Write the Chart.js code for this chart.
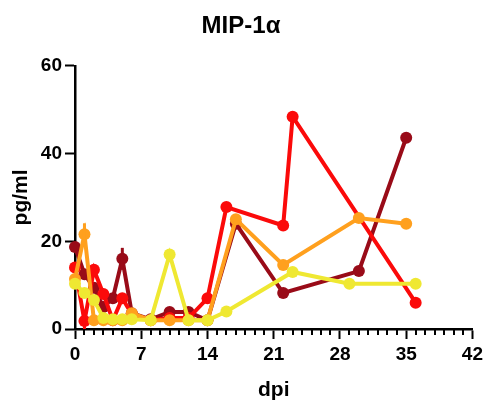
<!DOCTYPE html>
<html>
<head>
<meta charset="utf-8">
<script src="https://cdn.jsdelivr.net/npm/chart.js@4/dist/chart.umd.min.js"></script>
<style>
  body { margin: 0; background: #fff; }
  #wrap { width: 487px; height: 403px; }
</style>
</head>
<body>
<div id="wrap"><canvas id="c"></canvas></div>
<script>
const xTicks = [0, 7, 14, 21, 28, 35, 42]
const yTicks = [0, 20, 40, 60]

const darkRedDays = [0, 1, 2, 3, 4, 5, 6, 8, 10, 12, 14, 17, 22, 30, 35]
const darkRedVals = [18.7, 12.5, 9.4, 5, 7, 16, 3.6, 2.2, 3.9, 3.9, 2, 24, 8.2, 13.2, 43.6]
const darkRedErr  = [1, 0, 0, 0, 0, 2.5, 0, 0, 0, 0, 0, 0, 0, 0, 0]

const redDays = [0, 1, 2, 3, 4, 5, 6, 8, 10, 12, 14, 16, 22, 23, 36]
const redVals = [14, 1.8, 13.5, 8, 2, 7, 3.4, 2, 2.5, 2.5, 7, 27.8, 23.6, 48.4, 6]
const redErr  = [0, 2.5, 0, 0, 0, 0, 0, 0, 0, 0, 0, 0, 0, 0, 0]

const orangeDays = [0, 1, 2, 3, 4, 5, 6, 8, 10, 12, 14, 17, 22, 30, 35]
const orangeVals = [11.4, 21.6, 2, 2, 2, 2, 3.6, 2, 2, 2, 2, 25, 14.6, 25.3, 24]
const orangeErr  = [0, 2.5, 0, 0, 0, 0, 0, 0, 0, 0, 0, 0, 0, 0, 0]

const yellowDays = [0, 1, 2, 3, 4, 5, 6, 8, 10, 12, 14, 16, 23, 29, 36]
const yellowVals = [10.3, 8.2, 6.6, 2.5, 2.2, 2.2, 2.2, 2, 17, 2, 2, 4, 13, 10.3, 10.3]
const yellowErr  = [0, 0, 0, 0, 0, 0, 0, 0, 0, 0, 0, 0, 0, 0, 0]

const toPoints = (days, vals) => days.map((d, i) => ({ x: d, y: vals[i] }))

function series(days, vals, err, color, order) {
    return {
        data: toPoints(days, vals),
        errors: err,
        borderColor: color,
        backgroundColor: color,
        borderWidth: 4,
        pointRadius: 6,
        pointHoverRadius: 6,
        pointBorderWidth: 0,
        tension: 0,
        clip: false,
        order: order
    }
}

// error bars + minor x ticks
const extras = {
    id: 'extras',
    afterDatasetDraw(chart, args) {
        const ds = chart.data.datasets[args.index]
        const xs = chart.scales.x, ys = chart.scales.y
        const ctx = chart.ctx
        ctx.save()
        ctx.strokeStyle = ds.borderColor
        ctx.lineWidth = 3
        ds.data.forEach((p, i) => {
            const e = ds.errors[i]
            if (!e) return
            const px = xs.getPixelForValue(p.x)
            ctx.beginPath()
            ctx.moveTo(px, ys.getPixelForValue(Math.max(0, p.y - e)))
            ctx.lineTo(px, ys.getPixelForValue(p.y + e))
            ctx.stroke()
        })
        ctx.restore()
    },
    afterDraw(chart) {
        const xs = chart.scales.x
        const ctx = chart.ctx
        ctx.save()
        ctx.strokeStyle = '#000'
        ctx.lineWidth = 2
        for (let d = 0; d <= 42; d++) {
            if (d % 7 === 0) continue
            const px = Math.round(xs.getPixelForValue(d))
            ctx.beginPath()
            ctx.moveTo(px, xs.top)
            ctx.lineTo(px, xs.top + 6)
            ctx.stroke()
        }
        ctx.restore()
    }
}

const bold = (size) => ({ family: '"Liberation Sans", Arial, sans-serif', size: size, weight: 'bold' })

new Chart(document.getElementById('c'), {
    type: 'line',
    data: {
        datasets: [
            series(yellowDays, yellowVals, yellowErr, '#efe832', 0),
            series(orangeDays, orangeVals, orangeErr, '#ffa01e', 1),
            series(redDays, redVals, redErr, '#fb0a0a', 2),
            series(darkRedDays, darkRedVals, darkRedErr, '#990b18', 3)
        ]
    },
    options: {
        responsive: true,
        maintainAspectRatio: false,
        animation: false,
        layout: { padding: { left: 9, right: 14, top: 0, bottom: 0 } },
        plugins: {
            legend: { display: false },
            tooltip: { enabled: false },
            title: {
                display: true,
                text: 'MIP-1α',
                color: '#000',
                font: bold(24),
                padding: { top: 12, bottom: 25 }
            }
        },
        scales: {
            x: {
                type: 'linear',
                min: 0,
                max: 42,
                afterBuildTicks: (s) => { s.ticks = xTicks.map(v => ({ value: v })) },
                ticks: { color: '#000', font: bold(19), padding: 4, maxRotation: 0, autoSkip: false },
                grid: { drawOnChartArea: false, drawTicks: true, tickLength: 10, tickWidth: 2, tickColor: '#000' },
                border: { color: '#000', width: 2.5 },
                title: { display: true, text: 'dpi', color: '#000', font: bold(21), padding: { top: 15, bottom: 0 } },
                afterFit: (s) => { s.height = 74 }
            },
            y: {
                min: 0,
                max: 60,
                afterBuildTicks: (s) => { s.ticks = yTicks.map(v => ({ value: v })) },
                ticks: { color: '#000', font: bold(19), padding: 3 },
                grid: { drawOnChartArea: false, drawTicks: true, tickLength: 10, tickWidth: 2, tickColor: '#000' },
                border: { color: '#000', width: 2.5 },
                title: { display: true, text: 'pg/ml', color: '#000', font: bold(21), padding: 0 },
                afterFit: (s) => { s.width = 66 }
            }
        }
    },
    plugins: [extras]
})
</script>
</body>
</html>
